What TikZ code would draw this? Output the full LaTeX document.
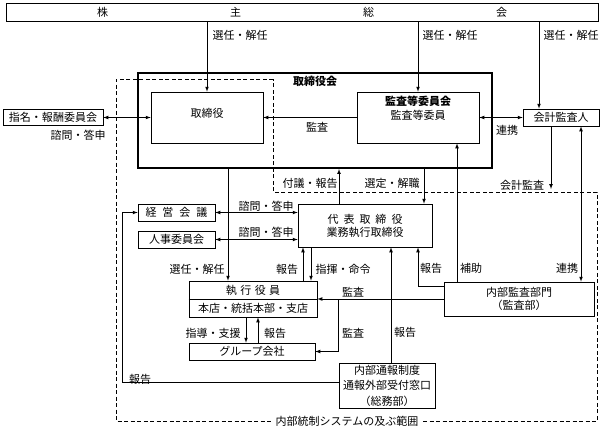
\documentclass[tikz,border=0pt]{standalone}
\usepackage{fontspec}
\setmainfont{Noto Sans CJK JP}
\usetikzlibrary{arrows}

\begin{document}
\begin{tikzpicture}[x=1pt, y=-1pt, >=latex, line width=0.7pt,
	box/.style={draw, rectangle, inner sep=0pt, align=center, font=\fontsize{11}{13}\selectfont},
	lbl/.style={inner sep=0pt, font=\fontsize{11}{13}\selectfont},
	scopeline/.style={dash pattern=on 4pt off 2.5pt, line width=0.9pt}]
	\useasboundingbox (0,0) rectangle (601,431);

	% range of internal control
	\draw[scopeline] (273,79) -- (116,79) -- (116,421) -- (597,421) -- (597,192) -- (273,192) -- cycle;
	\node[lbl, fill=white, inner xsep=3pt, inner ysep=2pt] (rangelbl) at (347,421) {内部統制システムの及ぶ範囲};

	% boxes
	\node[box, minimum width=592pt, minimum height=18pt] (sh) at (302,12) {株\hspace{122pt}主\hspace{122pt}総\hspace{122pt}会};
	\node[box, line width=2pt, minimum width=354pt, minimum height=95pt] (board) at (315,120.5) {};
	\node[lbl, font=\fontsize{11}{13}\selectfont\bfseries] (boardlbl) at (315,81) {取締役会};
	\node[box, minimum width=112pt, minimum height=51pt] (dir) at (207,117.5) {};
	\node[lbl] (dirlbl) at (207,113) {取締役};
	\node[box, minimum width=122pt, minimum height=51pt] (aud) at (418,117.5) {};
	\node[lbl, align=center, font=\fontsize{11}{14}\selectfont] (audlbl) at (418,108) {\textbf{監査等委員会}\\監査等委員};
	\node[box, minimum width=100pt, minimum height=16pt] (nom) at (53,117.5) {指名・報酬委員会};
	\node[box, minimum width=76pt, minimum height=17pt] (acc) at (561,117.5) {会計監査人};
	\node[box, minimum width=77pt, minimum height=17pt] (mgmt) at (176.5,212.5) {経\hspace{6pt}営\hspace{6pt}会\hspace{6pt}議};
	\node[box, minimum width=77pt, minimum height=17pt] (hr) at (176.5,239.5) {人事委員会};
	\node[box, minimum width=134pt, minimum height=43pt] (rep) at (365,225.5) {代\hspace{5pt}表\hspace{5pt}取\hspace{5pt}締\hspace{5pt}役\\業務執行取締役};
	\node[box, minimum width=128pt, minimum height=36pt, font=\fontsize{11}{18}\selectfont] (exec) at (253,299) {執\hspace{3.5pt}行\hspace{3.5pt}役\hspace{3.5pt}員\\本店・統括本部・支店};
	\draw (exec.west) -- (exec.east);
	\node[box, minimum width=126pt, minimum height=17pt] (grp) at (252,351.5) {グループ会社};
	\node[box, minimum width=150pt, minimum height=34pt] (ia) at (519,299) {内部監査部門\\（監査部）};
	\node[box, minimum width=96pt, minimum height=45pt, font=\fontsize{11}{15.5}\selectfont] (wb) at (387,385.5) {内部通報制度\\通報外部受付窓口\\（総務部）};

	% connectors
	\draw[->] (dir.north |- sh.south) -- (dir.north);
	\draw[->] (aud.north |- sh.south) -- (aud.north);
	\draw[->] ([xshift=-22pt]acc.north |- sh.south) -- ([xshift=-22pt]acc.north);
	\draw[->] (aud.west) -- (dir.east);
	\draw[<->] (nom.east) -- (dir.west);
	\draw[<->] (aud.east) -- (acc.west);
	\coordinate (caend) at (551,189);
	\draw[->] ([xshift=-10pt]acc.south) -- (caend);
	\draw[<->] ([xshift=20pt]acc.south) -- ([xshift=20pt]acc.south |- ia.north);
	\draw[->] ([xshift=-62pt]ia.north) -- ([xshift=-62pt]ia.north |- aud.south);
	\draw[->] ([xshift=59pt]rep.north |- board.south) -- ([xshift=59pt]rep.north);
	\draw[->] ([xshift=-26pt]rep.north) -- ([xshift=-26pt]rep.north |- board.south);
	\draw[->] ([xshift=-25pt]exec.north |- board.south) -- ([xshift=-25pt]exec.north);
	\draw[<->] (mgmt.east) -- (mgmt.east -| rep.west);
	\draw[<->] (hr.east) -- (hr.east -| rep.west);
	\draw[->] ([xshift=50pt]exec.north) -- ([xshift=50pt]exec.north |- rep.south);
	\draw[->] ([xshift=58pt]exec.north |- rep.south) -- ([xshift=58pt]exec.north);
	\draw[->] ([yshift=13pt]ia.west) -| ([xshift=53pt]rep.south);
	\draw[->] (ia.west) -- (exec.east);
	\draw[->] ([xshift=21pt]exec.east) |- (grp.east);
	\draw[->] ([xshift=-7pt]exec.south) -- ([xshift=-7pt]exec.south |- grp.north);
	\draw[->] ([xshift=5pt]exec.south |- grp.north) -- ([xshift=5pt]exec.south);
	\draw[->] ([xshift=4pt]wb.north) -- ([xshift=4pt]wb.north |- rep.south);
	\coordinate (lp) at (122,382);
	\draw[->] ([yshift=3.5pt]wb.west) -- (lp) |- (mgmt.west);

	% labels
	\node[lbl] (l1) at (240,35) {選任・解任};
	\node[lbl] (l2) at (450,35) {選任・解任};
	\node[lbl] (l3) at (571,35) {選任・解任};
	\node[lbl] (l4) at (317,127) {監査};
	\node[lbl] (l5) at (78,135) {諮問・答申};
	\node[lbl] (l6) at (507,130) {連携};
	\node[lbl] (l7) at (522,185) {会計監査};
	\node[lbl] (l8) at (567,268) {連携};
	\node[lbl] (l9) at (471,268) {補助};
	\node[lbl] (l10) at (392,183) {選定・解職};
	\node[lbl] (l11) at (310,183) {付議・報告};
	\node[lbl] (l12) at (266,206) {諮問・答申};
	\node[lbl] (l13) at (266,232) {諮問・答申};
	\node[lbl] (l14) at (197,269) {選任・解任};
	\node[lbl] (l15) at (287,269) {報告};
	\node[lbl] (l16) at (343,269) {指揮・命令};
	\node[lbl] (l17) at (431,268) {報告};
	\node[lbl] (l18) at (353,292) {監査};
	\node[lbl] (l19) at (353,333) {監査};
	\node[lbl] (l20) at (405,332) {報告};
	\node[lbl] (l21) at (213,333) {指導・支援};
	\node[lbl] (l22) at (275,333) {報告};
	\node[lbl] (l23) at (140,379) {報告};
\end{tikzpicture}
\end{document}
